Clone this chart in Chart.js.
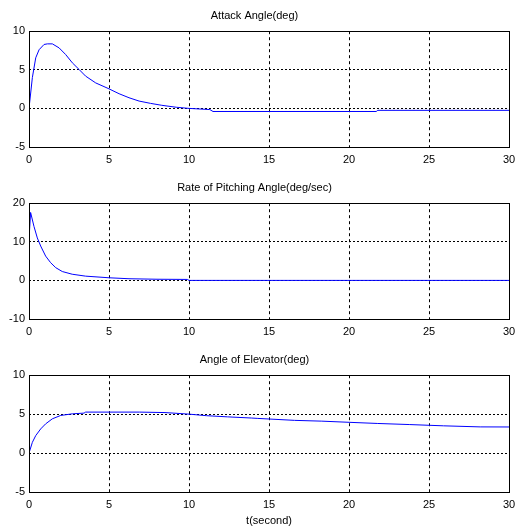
<!DOCTYPE html>
<html>
<head>
<meta charset="utf-8">
<script src="https://cdn.jsdelivr.net/npm/chart.js@4/dist/chart.umd.min.js"></script>
<style>
  body { margin: 0; background: #fff; }
  .plot { position: absolute; left: 0; width: 517px; }
</style>
</head>
<body>
<div class="plot" style="top:0px"><canvas id="c1" width="517" height="170"></canvas></div>
<div class="plot" style="top:172px"><canvas id="c2" width="517" height="170"></canvas></div>
<div class="plot" style="top:344px"><canvas id="c3" width="517" height="184"></canvas></div>
<script>
// time axis ticks (seconds)
const xTicks = [0, 5, 10, 15, 20, 25, 30];

// Attack Angle(deg)
const tAttack = [0, 0.21, 0.42, 0.63, 0.94, 1.15, 1.46, 1.88, 2.29, 2.71, 3.13, 3.54, 4.17, 4.94, 5.63, 6.25, 6.88, 7.6, 8.3, 9.2, 10.0, 11.3, 11.5, 21.7, 21.8, 30];
const attack  = [0, 4.0, 6.55, 7.6, 8.28, 8.36, 8.36, 7.84, 6.98, 5.9, 5.04, 4.18, 3.3, 2.59, 1.9, 1.38, 0.95, 0.65, 0.4, 0.15, 0, -0.15, -0.4, -0.4, -0.25, -0.25];

// Rate of Pitching Angle(deg/sec)
const tRate = [0, 0.02, 0.1, 0.31, 0.52, 0.73, 1.04, 1.35, 1.67, 2.08, 2.7, 3.54, 5.0, 6.25, 8.0, 9.9, 10.0, 30];
const rate  = [0, 12, 17.6, 14.0, 11.0, 8.9, 6.3, 4.6, 3.3, 2.3, 1.6, 1.1, 0.68, 0.43, 0.3, 0.25, 0, 0];

// Angle of Elevator(deg)
const tElev = [0, 0.21, 0.42, 0.73, 1.04, 1.46, 1.98, 2.71, 3.44, 3.54, 5, 6.9, 8.5, 10, 11.1, 12.4, 13.9, 14.3, 16.6, 18.3, 20, 21.8, 23.8, 25.9, 28.2, 30];
const elev  = [0, 1.38, 2.24, 3.1, 3.75, 4.4, 4.83, 5.04, 5.13, 5.26, 5.26, 5.26, 5.2, 5.0, 4.8, 4.65, 4.5, 4.45, 4.2, 4.1, 3.95, 3.8, 3.66, 3.5, 3.36, 3.35];

const FONT = "'Liberation Sans', Arial, sans-serif";

// draws the closed axes box like matlab
const boxPlugin = {
    id: 'box',
    afterDatasetsDraw(chart) {
        const a = chart.chartArea;
        const ctx = chart.ctx;
        ctx.save();
        ctx.strokeStyle = '#000';
        ctx.lineWidth = 1;
        ctx.setLineDash([]);
        const l = Math.round(a.left) + 0.5, t = Math.round(a.top) + 0.5;
        const r = Math.round(a.right) + 0.5, b = Math.round(a.bottom) + 0.5;
        ctx.strokeRect(l, t, r - l, b - t);
        ctx.restore();
    }
};

function gridColor(min, max) {
    return ctx => (ctx.tick && (ctx.tick.value === min || ctx.tick.value === max)) ? 'rgba(0,0,0,0)' : '#000';
}

function makePlot(id, title, ts, ys, yMin, yMax, yStep, xAxisHeight, xTitle) {
    const points = ts.map((t, i) => ({ x: t, y: ys[i] }));
    new Chart(document.getElementById(id), {
        type: 'line',
        data: {
            datasets: [{
                data: points,
                borderColor: '#0000ff',
                borderWidth: 1,
                pointRadius: 0,
                tension: 0,
                fill: false
            }]
        },
        options: {
            responsive: false,
            animation: false,
            devicePixelRatio: 1,
            layout: { padding: { left: 0, right: 8, top: 0, bottom: 0 } },
            plugins: {
                legend: { display: false },
                tooltip: { enabled: false },
                title: {
                    display: true,
                    text: title,
                    color: '#000',
                    font: { family: FONT, size: 11, weight: 'normal', lineHeight: 1.2 },
                    padding: { top: 9, bottom: 9 }
                }
            },
            scales: {
                x: {
                    type: 'linear',
                    min: 0,
                    max: 30,
                    afterBuildTicks: s => { s.ticks = xTicks.map(v => ({ value: v })); },
                    afterFit: s => { s.height = xAxisHeight; s.paddingLeft = 0; s.paddingRight = 0; },
                    grid: { color: gridColor(0, 30), lineWidth: 1, drawTicks: false },
                    border: { display: false, dash: [3, 3] },
                    ticks: { color: '#000', padding: 6, maxRotation: 0, font: { family: FONT, size: 11 } },
                    title: {
                        display: !!xTitle,
                        text: xTitle || '',
                        color: '#000',
                        padding: { top: 2, bottom: 0 },
                        font: { family: FONT, size: 11 }
                    }
                },
                y: {
                    min: yMin,
                    max: yMax,
                    ticks: { stepSize: yStep, color: '#000', padding: 4, font: { family: FONT, size: 11 } },
                    afterFit: s => { s.width = 29; s.paddingTop = 0; s.paddingBottom = 0; },
                    grid: { color: gridColor(yMin, yMax), lineWidth: 1, drawTicks: false },
                    border: { display: false, dash: [2, 2] }
                }
            }
        },
        plugins: [boxPlugin]
    });
}

makePlot('c1', 'Attack Angle(deg)', tAttack, attack, -5, 10, 5, 23);
makePlot('c2', 'Rate of Pitching Angle(deg/sec)', tRate, rate, -10, 20, 10, 23);
makePlot('c3', 'Angle of Elevator(deg)', tElev, elev, -5, 10, 5, 36, 't(second)');
</script>
</body>
</html>
